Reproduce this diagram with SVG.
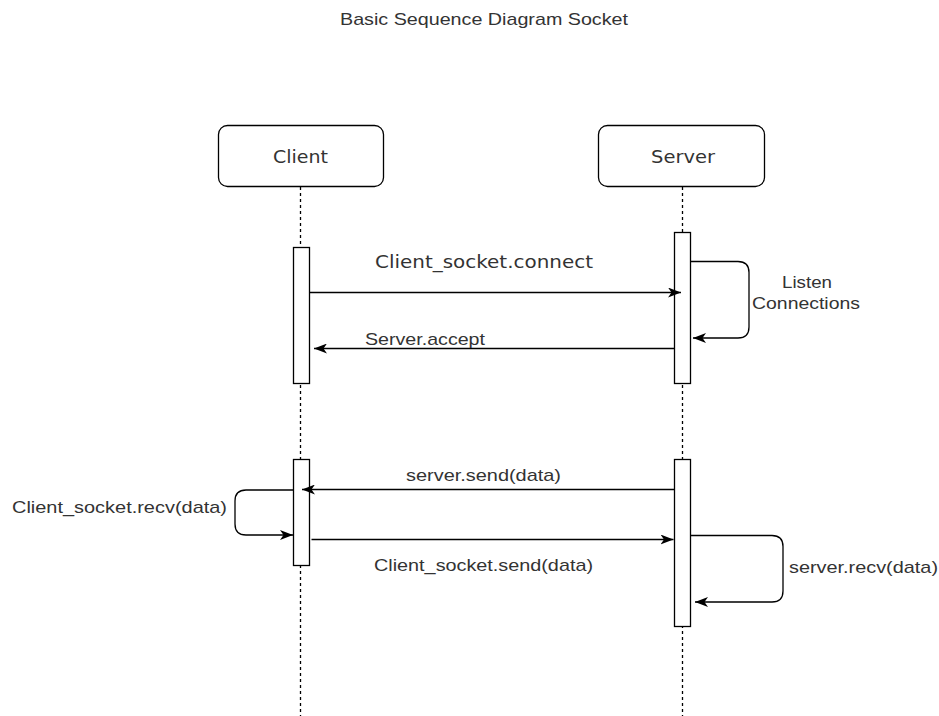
<svg xmlns="http://www.w3.org/2000/svg" width="939" height="716" viewBox="0 0 939 716">
<style>
  .lbl { font-family: "Liberation Sans", Arial, sans-serif; font-size: 17px; fill: #333; }
  .dv { font-family: "DejaVu Sans", Verdana, sans-serif; font-size: 18px; fill: #333; }
  .box { fill: #fff; stroke: #000; stroke-width: 1.3; }
  .life { stroke: #000; stroke-width: 1.3; stroke-dasharray: 3 3; fill: none; }
  .msg { stroke: #000; stroke-width: 1.3; fill: none; marker-end: url(#arr); }
</style>
<defs>
  <marker id="arr" viewBox="0 0 13 10" refX="13" refY="5" markerWidth="13" markerHeight="10" markerUnits="userSpaceOnUse" orient="auto">
    <path d="M0,0 L13,5 L0,10 L3.5,5 z" fill="#000"/>
  </marker>
</defs>
<rect width="939" height="716" fill="#fff"/>
<text class="lbl" x="340" y="25" font-size="16" textLength="288" lengthAdjust="spacingAndGlyphs">Basic Sequence Diagram Socket</text>

<g id="lifelines">
  <line class="life" x1="300.5" y1="187" x2="300.5" y2="716"/>
  <line class="life" x1="682.5" y1="187" x2="682.5" y2="716"/>
</g>

<g id="client">
  <rect class="box" x="218.5" y="125.5" width="165" height="61" rx="9"/>
  <text class="dv" x="273" y="163" textLength="55" lengthAdjust="spacingAndGlyphs">Client</text>
</g>
<g id="server">
  <rect class="box" x="598.5" y="125.5" width="166" height="61" rx="9"/>
  <text class="dv" x="651" y="163" textLength="64" lengthAdjust="spacingAndGlyphs">Server</text>
</g>

<g id="client-act1"><rect class="box" x="293.5" y="247.5" width="16" height="136"/></g>
<g id="server-act1"><rect class="box" x="674.5" y="232.5" width="16" height="151"/></g>
<g id="client-act2"><rect class="box" x="293.5" y="459.5" width="16" height="106"/></g>
<g id="server-act2"><rect class="box" x="674.5" y="459.5" width="16" height="167"/></g>

<g id="connectors">
  <line class="msg" x1="309.5" y1="292.5" x2="681" y2="292.5"/>
  <line class="msg" x1="674.5" y1="348.5" x2="314" y2="348.5"/>
  <path class="msg" d="M690.5,261.5 H738 Q749,261.5 749,272.5 V327 Q749,338 738,338 H693"/>
  <line class="msg" x1="674.5" y1="489.5" x2="302" y2="489.5"/>
  <path class="msg" d="M293.5,490 H246 Q235,490 235,501 V524 Q235,535 246,535 H293"/>
  <line class="msg" x1="311.5" y1="539.5" x2="673.5" y2="539.5"/>
  <path class="msg" d="M690.5,535.5 H772 Q783,535.5 783,546.5 V591 Q783,602 772,602 H695"/>
</g>

<g id="labels">
  <text class="dv" x="375" y="268" textLength="218" lengthAdjust="spacingAndGlyphs">Client_socket.connect</text>
  <text class="lbl" x="365" y="345" textLength="120" lengthAdjust="spacingAndGlyphs">Server.accept</text>
  <text class="lbl" x="782" y="288" textLength="50" lengthAdjust="spacingAndGlyphs">Listen</text>
  <text class="lbl" x="752" y="309" textLength="108" lengthAdjust="spacingAndGlyphs">Connections</text>
  <text class="lbl" x="406" y="481" textLength="155" lengthAdjust="spacingAndGlyphs">server.send(data)</text>
  <text class="lbl" x="12" y="513" textLength="215" lengthAdjust="spacingAndGlyphs">Client_socket.recv(data)</text>
  <text class="lbl" x="374" y="571" textLength="219" lengthAdjust="spacingAndGlyphs">Client_socket.send(data)</text>
  <text class="lbl" x="789" y="573" textLength="149" lengthAdjust="spacingAndGlyphs">server.recv(data)</text>
</g>
</svg>
